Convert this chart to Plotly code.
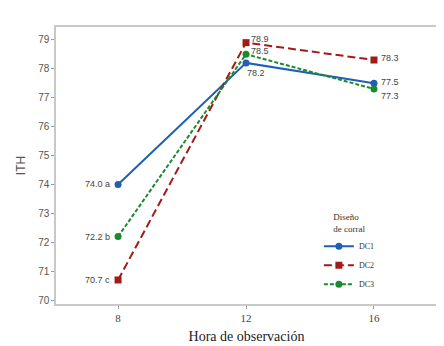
import plotly.graph_objects as go

hours = [8, 12, 16]
dc1 = [74.0, 78.2, 77.5]
dc2 = [70.7, 78.9, 78.3]
dc3 = [72.2, 78.5, 77.3]
series_names = ["DC1", "DC2", "DC3"]
labels_dc1 = ["74.0 a", "78.2", "77.5"]
labels_dc2 = ["70.7 c", "78.9", "78.3"]
labels_dc3 = ["72.2 b", "78.5", "77.3"]

colors = ["#1f5fb4", "#a31a1a", "#1b8a2e"]
dashes = ["solid", "8px,4px", "4px,2px"]
symbols = ["circle", "square", "circle"]

fig = go.Figure()
for name, ys, c, d, s in zip(series_names, [dc1, dc2, dc3], colors, dashes, symbols):
    fig.add_trace(go.Scatter(x=hours, y=ys, name=name, mode="lines+markers",
                             line=dict(color=c, width=2, dash=d),
                             marker=dict(color=c, size=7, symbol=s)))

ann_font = dict(family="Liberation Sans Narrow, Liberation Sans, sans-serif", size=9, color="#444")
for ys, labs in [(dc1, labels_dc1), (dc2, labels_dc2), (dc3, labels_dc3)]:
    fig.add_annotation(x=hours[0], y=ys[0], text=labs[0], showarrow=False,
                       xanchor="right", xshift=-6, font=ann_font)
fig.add_annotation(x=hours[1], y=dc2[1], text=labels_dc2[1], showarrow=False, xanchor="left", xshift=3, yshift=4, font=ann_font)
fig.add_annotation(x=hours[1], y=dc3[1], text=labels_dc3[1], showarrow=False, xanchor="left", xshift=3, yshift=3, font=ann_font)
fig.add_annotation(x=hours[1], y=dc1[1], text=labels_dc1[1], showarrow=False, xanchor="left", xshift=-1, yshift=-10, font=ann_font)
fig.add_annotation(x=hours[2], y=dc2[2], text=labels_dc2[2], showarrow=False, xanchor="left", xshift=5, yshift=2, font=ann_font)
fig.add_annotation(x=hours[2], y=dc1[2], text=labels_dc1[2], showarrow=False, xanchor="left", xshift=5, yshift=1, font=ann_font)
fig.add_annotation(x=hours[2], y=dc3[2], text=labels_dc3[2], showarrow=False, xanchor="left", xshift=5, yshift=-7, font=ann_font)

fig.update_layout(
    width=444, height=346,
    margin=dict(l=48, r=15, t=19, b=42),
    paper_bgcolor="white", plot_bgcolor="white",
    showlegend=True,
    legend=dict(x=0.69, y=0.345, xanchor="left", yanchor="top",
                bgcolor="rgba(0,0,0,0)",
                title=dict(text="Diseño<br>de corral", side="top center",
                           font=dict(family="Liberation Serif, serif", size=9, color="#333")),
                font=dict(family="Liberation Serif, serif", size=8, color="#333"),
                tracegroupgap=0, itemwidth=30),
    xaxis=dict(range=[6.06, 17.97], tickvals=hours, ticktext=["8", "12", "16"],
               showgrid=False, zeroline=False, showline=True, mirror=True,
               linecolor="#c8c8c8", linewidth=1.5, ticks="outside", ticklen=3, tickcolor="#999",
               tickfont=dict(family="Liberation Serif, serif", size=11, color="#444"),
               title=dict(text="Hora de observación", standoff=8,
                          font=dict(family="Liberation Serif, serif", size=14, color="#222"))),
    yaxis=dict(range=[69.87, 79.44], tickvals=[70, 71, 72, 73, 74, 75, 76, 77, 78, 79],
               showgrid=False, zeroline=False, showline=True, mirror=True,
               linecolor="#c8c8c8", linewidth=1.5, ticks="outside", ticklen=3, tickcolor="#999",
               tickfont=dict(family="Liberation Sans, sans-serif", size=10, color="#555"),
               title=dict(text="ITH", standoff=10,
                          font=dict(family="Liberation Sans, sans-serif", size=12, color="#555"))),
)

fig.write_html("out.html")
